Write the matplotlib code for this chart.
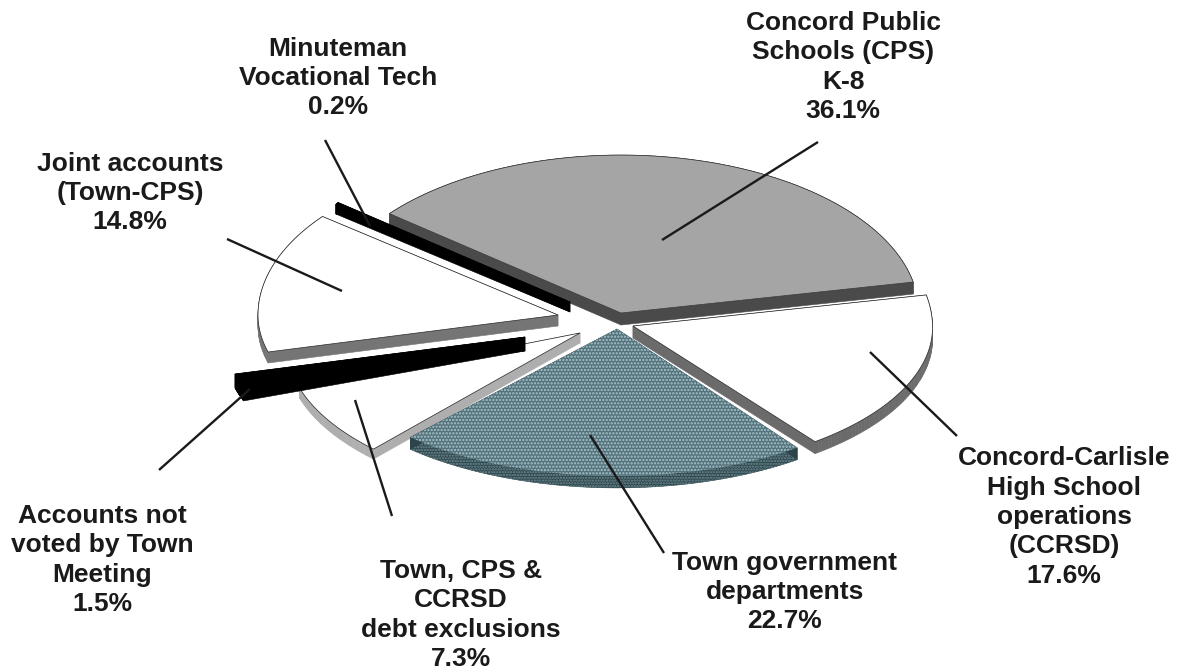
import numpy as np
import matplotlib
matplotlib.use('Agg')
import matplotlib.pyplot as plt

# share of the budget, clockwise from the back left
labels = ['Concord Public\nSchools (CPS)\nK-8\n36.1%',
          'Concord-Carlisle\nHigh School\noperations\n(CCRSD)\n17.6%',
          'Town government\ndepartments\n22.7%',
          'Town, CPS &\nCCRSD\ndebt exclusions\n7.3%',
          'Accounts not\nvoted by Town\nMeeting\n1.5%',
          'Joint accounts\n(Town-CPS)\n14.8%',
          'Minuteman\nVocational Tech\n0.2%']
values = [36.1, 17.6, 22.7, 7.3, 1.5, 14.8, 0.2]

# layout of the pie, in pixels of the figure
start = 141.0
radius_a = [298, 299, 306, 318, 300, 300, 298]
radius_b = [298, 302, 306, 303, 300, 300, 298]
nudge_a = [0, 0, -2, 3, 0, 0, 0]
nudge_b = [0, -1, 1, 2, 0, 0, 0]
tip_x = [621, 633, 617, 580, 525, 558, 570]
tip_y = [313, 326, 329, 333, 337, 315, 302]
depth = [12, 12, 12, 10, 14, 11, 10]
k_back = 0.53
k_front = 0.48

top_col = ['#a5a5a5', '#ffffff', '#54727b', '#ffffff', '#000000', '#ffffff', '#000000']
side_col = ['#4a4a4a', '#6b6b6b', '#2c444a', '#aeaeae', '#000000', '#757575', '#000000']
edge_col = ['#333333', '#222222', 'none', '#222222', '#000000', '#222222', '#000000']
draw_order = [0, 6, 5, 1, 3, 4, 2]

label_x = [843, 1064, 785, 461, 102, 130, 338]
label_y = [67, 517, 592, 615, 560, 193, 78]
leader_from = [(818, 142), (957, 436), (664, 553), (392, 516), (159, 470), (227, 239), (325, 140)]
leader_to = [(662, 240), (870, 352), (590, 435), (355, 400), (250, 389), (342, 291), (370, 226)]

plt.rcParams['font.family'] = ['Liberation Sans', 'DejaVu Sans']
plt.rcParams['hatch.linewidth'] = 1.1

fig = plt.figure(figsize=(11.8, 6.7), dpi=100)
ax = fig.add_axes([0, 0, 1, 1])
ax.set_xlim(0, 1180)
ax.set_ylim(670, 0)
ax.axis('off')

spans = np.array(values) / sum(values) * 360.0
ends = start - np.cumsum(spans)
starts = ends + spans


def wedge(i):
	t = np.radians(np.linspace(starts[i] + nudge_a[i], ends[i] + nudge_b[i], 80))
	r = np.linspace(radius_a[i], radius_b[i], 80)
	s = np.sin(t)
	k = np.where(s > 0, k_back, k_front)
	x = tip_x[i] + r * np.cos(t)
	y = tip_y[i] - r * k * s
	return np.r_[tip_x[i], x], np.r_[tip_y[i], y]


for i in draw_order:
	x, y = wedge(i)
	xc = np.r_[x, x[0]]
	yc = np.r_[y, y[0]]
	# sides first, the top face hides the ones at the back
	for j in range(len(x)):
		ax.fill([xc[j], xc[j + 1], xc[j + 1], xc[j]],
				[yc[j], yc[j + 1], yc[j + 1] + depth[i], yc[j] + depth[i]],
				color=side_col[i], lw=0.4, zorder=2)
	if i == 2:
		ax.fill(x, y + depth[i], facecolor='none', edgecolor='#6f8d95',
				hatch='......', lw=0, zorder=2)
		ax.fill(x, y, facecolor=top_col[i], edgecolor='#a8c4cc', hatch='.....', lw=0, zorder=2)
	else:
		ax.fill(x, y, facecolor=top_col[i], edgecolor=edge_col[i], lw=0.5, zorder=2)

for i in range(len(values)):
	ax.text(label_x[i], label_y[i], labels[i], ha='center', va='center', ma='center',
			fontsize=19, fontweight='bold', linespacing=1.285, color='#1a1a1a', zorder=4)
	ax.plot([leader_from[i][0], leader_to[i][0]], [leader_from[i][1], leader_to[i][1]],
			color='#1a1a1a', lw=1.7, zorder=3, solid_capstyle='butt')

fig.savefig('out.png', dpi=100)
